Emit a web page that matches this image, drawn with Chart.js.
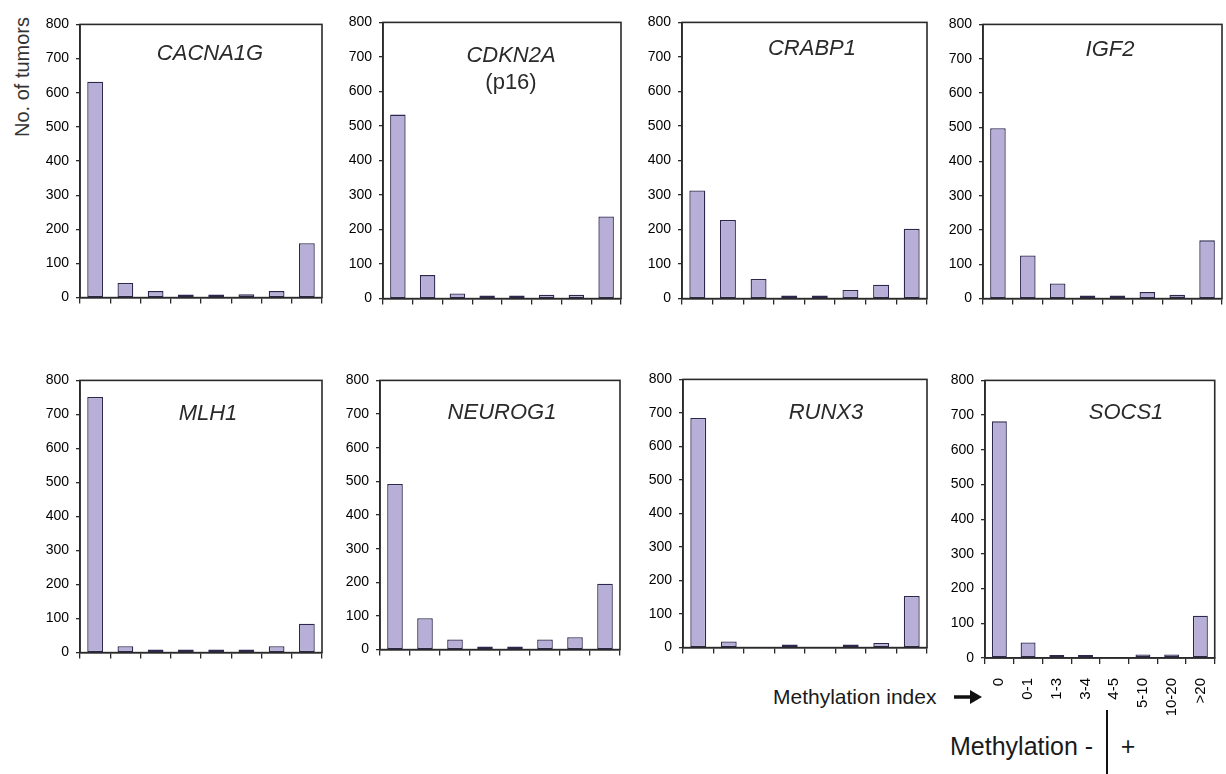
<!DOCTYPE html>
<html>
<head>
<meta charset="utf-8">
<script src="https://cdn.jsdelivr.net/npm/chart.js@4"></script>
<style>
  html, body { margin: 0; padding: 0; background: #fff; }
  body { width: 1226px; height: 774px; position: relative; overflow: hidden;
         font-family: "Liberation Sans", Arial, sans-serif; color: #222; }
  .panel { position: absolute; }
  .gene { position: absolute; transform: translate(-50%, -50%); font-size: 22px;
          font-style: italic; color: #2a2a2a; white-space: nowrap; }
  .txt { position: absolute; white-space: nowrap; color: #1a1a1a; }
</style>
</head>
<body>
<div class="txt" style="left:22px;top:77px;font-size:20px;color:#333;transform:translate(-50%,-50%) rotate(-90deg);">No. of tumors</div>

<div class="txt" style="left:773px;top:697px;font-size:21px;transform:translateY(-50%);">Methylation index</div>
<svg style="position:absolute;left:953px;top:689px" width="30" height="16">
  <line x1="1" y1="8" x2="20" y2="8" stroke="#111" stroke-width="3.5"/>
  <polygon points="17,1 29,8 17,15" fill="#111"/>
</svg>
<div class="txt" style="left:950px;top:746px;font-size:25px;transform:translateY(-50%);">Methylation -</div>
<div style="position:absolute;left:1106px;top:710px;width:2px;height:64px;background:#111"></div>
<div class="txt" style="left:1128px;top:746px;font-size:25px;transform:translate(-50%,-50%);">+</div>

<script>
// methylation index categories
const categories = ['0', '0-1', '1-3', '3-4', '4-5', '5-10', '10-20', '>20'];
const yTicks = [0, 100, 200, 300, 400, 500, 600, 700, 800];

// no. of tumors per category
const cacna1g = [632, 43, 19, 4, 3, 10, 19, 159];
const cdkn2a  = [533, 68, 15, 3, 3, 11, 11, 238];
const crabp1  = [313, 228, 57, 4, 7, 25, 40, 202];
const igf2    = [497, 126, 44, 7, 7, 19, 11, 170];
const mlh1    = [751, 19, 4, 4, 4, 9, 19, 85];
const neurog1 = [492, 93, 30, 8, 3, 30, 37, 196];
const runx3   = [685, 18, 0, 3, 0, 7, 14, 154];
const socs1   = [682, 45, 3, 3, 0, 10, 10, 122];

// plot-area boxes [left, top, right, bottom] and label anchors
const panels = [
    { data: cacna1g, box: [80, 17, 322, 303],  label: ['CACNA1G'], at: [210, 53] },
    { data: cdkn2a,  box: [383, 15, 621, 304], label: ['CDKN2A', '(p16)'], at: [511, 55] },
    { data: crabp1,  box: [682, 15, 927, 304], label: ['CRABP1'], at: [812, 48] },
    { data: igf2,    box: [983, 17, 1222, 304], label: ['IGF2'], at: [1110, 49] },
    { data: mlh1,    box: [80, 373, 322, 658], label: ['MLH1'], at: [208, 413] },
    { data: neurog1, box: [380, 373, 620, 655], label: ['NEUROG1'], at: [502, 412] },
    { data: runx3,   box: [683, 372, 927, 653], label: ['RUNX3'], at: [826, 412] },
    { data: socs1,   box: [985, 373, 1223, 658], label: ['SOCS1'], at: [1126, 412], showX: true },
];

const YW = 40, PADT = 8, PADR = 10;
const FONT = '"Liberation Sans", Arial, sans-serif';

const framePlugin = {
    id: 'frame',
    afterDraw(chart) {
        const { ctx, chartArea: a } = chart;
        ctx.save();
        ctx.strokeStyle = '#2a2a2a';
        ctx.lineWidth = 1.6;
        ctx.strokeRect(a.left, a.top, a.right - a.left, a.bottom - a.top);
        ctx.restore();
    }
};

panels.forEach((p) => {
    const [L, T, R, B] = p.box;
    const xh = p.showX ? 70 : 10;
    const div = document.createElement('div');
    div.className = 'panel';
    div.style.left = (L - YW) + 'px';
    div.style.top = (T - PADT) + 'px';
    div.style.width = (R - L + YW + PADR) + 'px';
    div.style.height = (B - T + PADT + xh) + 'px';
    const cv = document.createElement('canvas');
    div.appendChild(cv);
    document.body.appendChild(div);

    new Chart(cv, {
        type: 'bar',
        data: {
            labels: categories,
            datasets: [{
                // empty categories get no bar at all
                data: p.data.map(v => v === 0 ? null : v),
                backgroundColor: '#b8afd8',
                borderColor: '#2b274d',
                borderWidth: 1.3,
                borderSkipped: false,
                minBarLength: 3,
                barPercentage: 0.52,
                categoryPercentage: 1,
            }]
        },
        options: {
            responsive: true,
            maintainAspectRatio: false,
            animation: false,
            layout: { padding: { top: PADT, right: PADR, left: 0, bottom: 0 } },
            plugins: { legend: { display: false }, tooltip: { enabled: false } },
            scales: {
                x: {
                    grid: { offset: true, drawOnChartArea: false, color: '#2a2a2a', lineWidth: 1.3, tickLength: 6 },
                    border: { color: '#2a2a2a', width: 1.6 },
                    ticks: {
                        display: !!p.showX, autoSkip: false, minRotation: 90, maxRotation: 90,
                        padding: 14, color: '#000',
                        font: { family: FONT, size: 15 }
                    },
                    afterFit(s) { s.height = xh; }
                },
                y: {
                    min: 0, max: 800,
                    afterBuildTicks(s) { s.ticks = yTicks.map(v => ({ value: v })); },
                    grid: { drawOnChartArea: false, color: '#2a2a2a', lineWidth: 1.3, tickLength: 4 },
                    border: { color: '#2a2a2a', width: 1.6 },
                    ticks: {
                        padding: 7, color: '#000',
                        font: { family: FONT, size: 14 }
                    },
                    afterFit(s) { s.width = YW; }
                }
            }
        },
        plugins: [framePlugin]
    });

    p.label.forEach((t, j) => {
        const g = document.createElement('div');
        g.className = 'gene';
        if (j > 0) g.style.fontStyle = 'normal';
        g.style.left = p.at[0] + 'px';
        g.style.top = (p.at[1] + j * 27) + 'px';
        g.textContent = t;
        document.body.appendChild(g);
    });
});
</script>
</body>
</html>
